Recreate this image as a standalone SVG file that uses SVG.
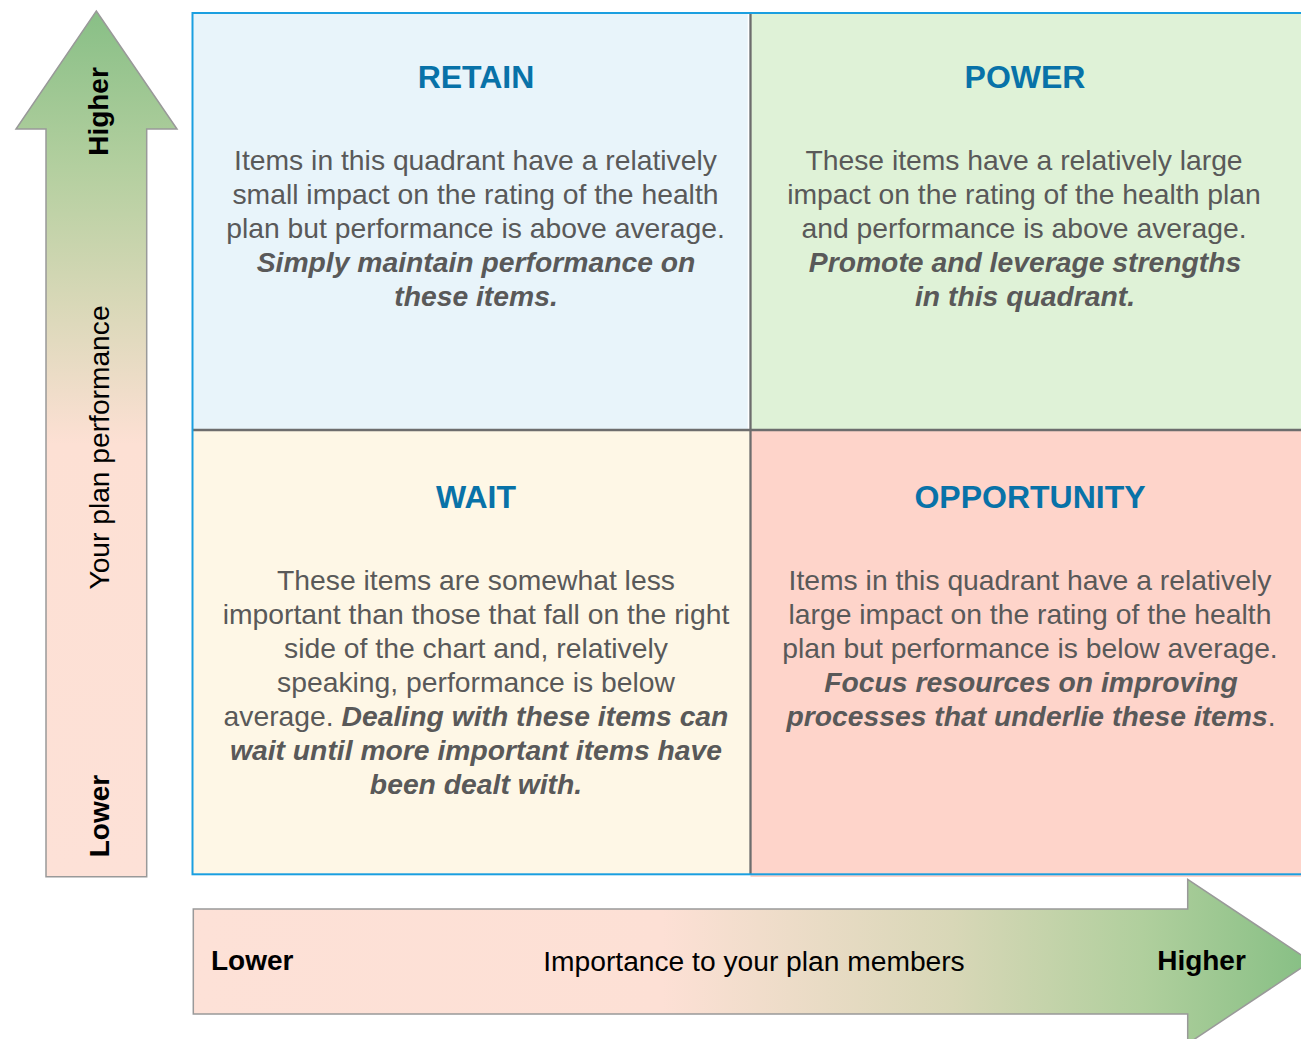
<svg xmlns="http://www.w3.org/2000/svg" width="1301" height="1039" viewBox="0 0 1301 1039">
  <style>
    text { font-family: "Liberation Sans", Arial, sans-serif; }
    .title { font-size: 32px; font-weight: bold; fill: #0872a8; text-anchor: middle; }
    .body { font-size: 28.3px; fill: #595959; text-anchor: middle; }
    .em { font-weight: bold; font-style: italic; }
    .axis { font-size: 28.2px; fill: #000; }
    .axisb { font-size: 28px; font-weight: bold; fill: #000; }
    .arrow { stroke: #999; stroke-width: 1.5; }
  </style>
  <defs>
    <linearGradient id="gradV" gradientUnits="userSpaceOnUse" x1="0" y1="11" x2="0" y2="877">
      <stop offset="0" stop-color="#88bf86"/>
      <stop offset="0.18" stop-color="#b3cf9f"/>
      <stop offset="0.34" stop-color="#d9d8b8"/>
      <stop offset="0.5" stop-color="#fde0d4"/>
      <stop offset="1" stop-color="#fde1d7"/>
    </linearGradient>
    <linearGradient id="gradH" gradientUnits="userSpaceOnUse" x1="193" y1="0" x2="1311" y2="0">
      <stop offset="0" stop-color="#fde1d7"/>
      <stop offset="0.42" stop-color="#fde0d5"/>
      <stop offset="0.68" stop-color="#d8d7b7"/>
      <stop offset="0.85" stop-color="#b0cf9d"/>
      <stop offset="1" stop-color="#86bf84"/>
    </linearGradient>
  </defs>

  <g id="quadrants">
    <g id="retain">
      <rect x="192" y="13" width="558.5" height="417" fill="#e8f4fa"/>
      <text class="title" x="476" y="88">RETAIN</text>
      <text class="body" x="475.5" y="170">Items in this quadrant have a relatively</text>
      <text class="body" x="475.5" y="204">small impact on the rating of the health</text>
      <text class="body" x="475.5" y="238">plan but performance is above average.</text>
      <text class="body em" x="476" y="272">Simply maintain performance on</text>
      <text class="body em" x="476" y="306">these items.</text>
    </g>
    <g id="power">
      <rect x="750.5" y="13" width="560" height="417" fill="#dff2d7"/>
      <text class="title" x="1025" y="88">POWER</text>
      <text class="body" x="1024" y="170">These items have a relatively large</text>
      <text class="body" x="1024" y="204">impact on the rating of the health plan</text>
      <text class="body" x="1024" y="238">and performance is above average.</text>
      <text class="body em" x="1025" y="272">Promote and leverage strengths</text>
      <text class="body em" x="1025" y="306">in this quadrant.</text>
    </g>
    <g id="wait">
      <rect x="192" y="430" width="558.5" height="444" fill="#fef7e6"/>
      <text class="title" x="476" y="508">WAIT</text>
      <text class="body" x="476" y="590">These items are somewhat less</text>
      <text class="body" x="476" y="624">important than those that fall on the right</text>
      <text class="body" x="476" y="658">side of the chart and, relatively</text>
      <text class="body" x="476" y="692">speaking, performance is below</text>
      <text class="body" x="476" y="726">average. <tspan class="em">Dealing with these items can</tspan></text>
      <text class="body em" x="476" y="760">wait until more important items have</text>
      <text class="body em" x="476" y="794">been dealt with.</text>
    </g>
    <g id="opportunity">
      <rect x="750.5" y="430" width="560" height="447" fill="#fed4ca"/>
      <text class="title" x="1030" y="508">OPPORTUNITY</text>
      <text class="body" x="1030" y="590">Items in this quadrant have a relatively</text>
      <text class="body" x="1030" y="624">large impact on the rating of the health</text>
      <text class="body" x="1030" y="658">plan but performance is below average.</text>
      <text class="body em" x="1031" y="692">Focus resources on improving</text>
      <text class="body" x="1031" y="726"><tspan class="em">processes that underlie these items</tspan>.</text>
    </g>
    <g id="grid-lines">
      <line x1="748.5" y1="14" x2="748.5" y2="429" stroke="#ffffff" stroke-width="1.5"/>
      <line x1="750.5" y1="13" x2="750.5" y2="874" stroke="#6d6d6d" stroke-width="2.3"/>
      <line x1="192" y1="430" x2="1311" y2="430" stroke="#6d6d6d" stroke-width="2.3"/>
      <rect x="192.5" y="13" width="1120" height="861.3" fill="none" stroke="#1a9fe0" stroke-width="2"/>
    </g>
  </g>

  <g id="axis-performance">
    <path class="arrow" d="M96.3,11 L177,129 L146.7,129 L146.7,876.7 L46,876.7 L46,129 L16,129 Z" fill="url(#gradV)"/>
    <text class="axisb" transform="translate(108,111.5) rotate(-90)" text-anchor="middle">Higher</text>
    <text class="axis" transform="translate(109,447.5) rotate(-90)" text-anchor="middle">Your plan performance</text>
    <text class="axisb" transform="translate(109,816) rotate(-90)" text-anchor="middle">Lower</text>
  </g>

  <g id="axis-importance">
    <path class="arrow" d="M193.3,909 L1187.7,909 L1187.7,879.3 L1311,961.5 L1187.7,1043.7 L1187.7,1014 L193.3,1014 Z" fill="url(#gradH)"/>
    <text class="axisb" x="211" y="970">Lower</text>
    <text class="axis" x="754" y="971" text-anchor="middle">Importance to your plan members</text>
    <text class="axisb" x="1201.5" y="970" text-anchor="middle">Higher</text>
  </g>

  <g id="connectors"/>
</svg>
